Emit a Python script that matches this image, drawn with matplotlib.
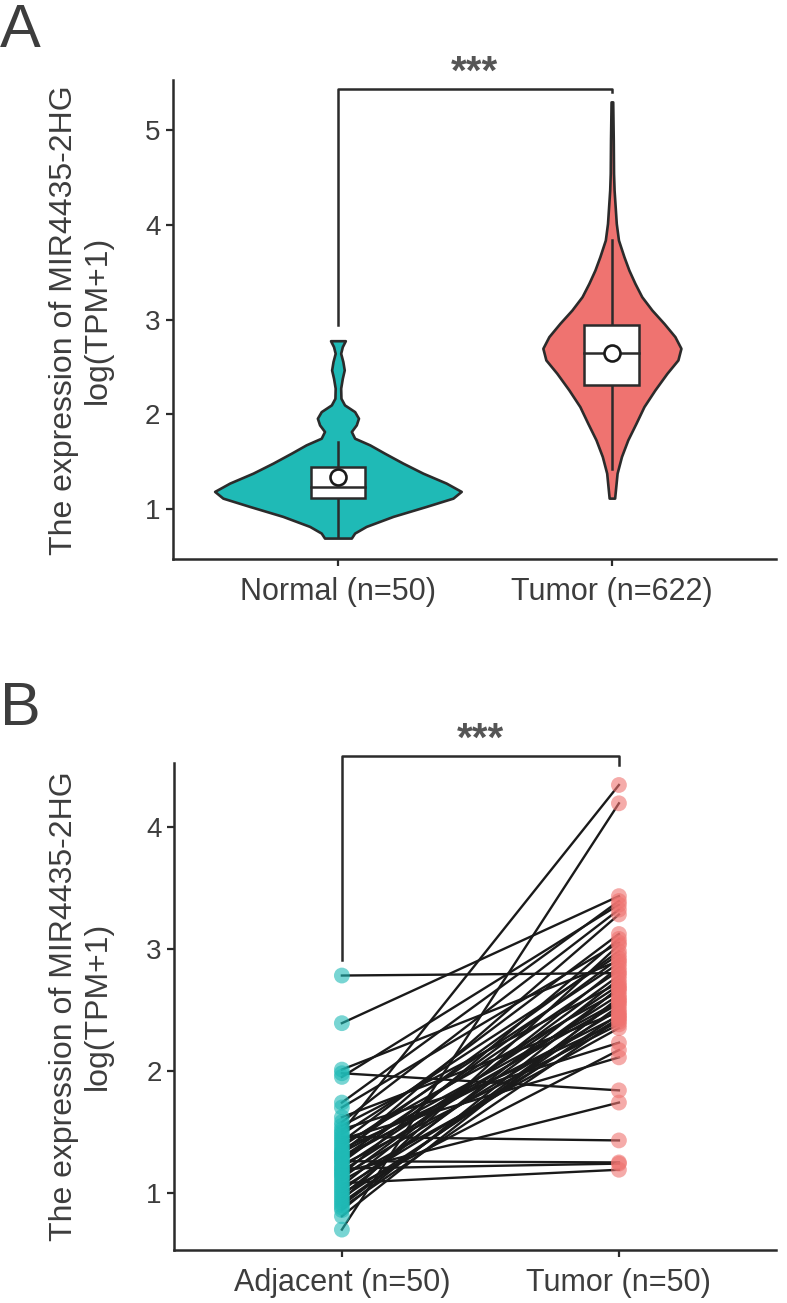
import numpy as np
import matplotlib.pyplot as plt
from matplotlib.patches import Rectangle

plt.rcParams['font.family'] = ['Liberation Sans', 'DejaVu Sans']

TXT = '#3d3d3d'
LINE = '#2b2b2b'
TEAL = '#1fbab6'
SALMON = '#ef7370'

# ---- panel A : violin profiles (value, half width in x units)
normal_y = [2.776, 2.713, 2.643, 2.555, 2.467, 2.379, 2.274, 2.168, 2.098, 2.027, 1.957,
            1.887, 1.817, 1.746, 1.676, 1.588, 1.483, 1.377, 1.272, 1.184, 1.113, 1.025,
            0.920, 0.814, 0.744, 0.691]
normal_hw = [0.027, 0.016, 0.010, 0.018, 0.023, 0.016, 0.010, 0.011, 0.024, 0.061, 0.075,
             0.067, 0.049, 0.061, 0.116, 0.170, 0.237, 0.310, 0.395, 0.450, 0.420, 0.322,
             0.201, 0.103, 0.061, 0.049]
tumor_y = [5.299, 4.894, 4.543, 4.367, 4.191, 4.015, 3.839, 3.663, 3.522, 3.382, 3.241,
           3.100, 2.959, 2.819, 2.696, 2.573, 2.432, 2.256, 2.080, 1.904, 1.728, 1.553,
           1.377, 1.113]
tumor_hw = [0.003, 0.005, 0.006, 0.008, 0.012, 0.016, 0.024, 0.044, 0.062, 0.084, 0.109,
            0.146, 0.190, 0.230, 0.252, 0.241, 0.201, 0.157, 0.117, 0.088, 0.058, 0.035,
            0.019, 0.010]

# box stats: whisker low, q1, median, q3, whisker high, mean
normal_box = [0.70, 1.116, 1.23, 1.445, 1.71, 1.34]
tumor_box = [1.42, 2.31, 2.65, 2.94, 3.84, 2.65]

groupsA = ['Normal (n=50)', 'Tumor (n=622)']

# ---- panel B : paired samples (same order = same patient)
adjacent = [2.78, 2.39, 2.01, 1.98, 1.95, 0.70, 1.50, 1.46, 1.26, 1.20, 1.08, 1.17, 0.81,
            1.74, 1.70, 1.62, 1.58, 1.55, 1.52, 1.48, 1.44, 1.42, 1.40, 1.38, 1.36, 1.34,
            1.33, 1.32, 1.30, 1.29, 1.28, 1.25, 1.23, 1.21, 1.18, 1.15, 1.14, 1.12, 1.10,
            1.06, 1.04, 1.02, 1.00, 0.98, 0.96, 0.94, 0.92, 0.90, 0.88, 0.86]
tumor = [2.80, 3.43, 2.90, 1.84, 3.36, 4.19, 4.34, 1.43, 1.25, 1.24, 1.19, 1.74, 2.60,
         3.39, 3.05, 2.48, 3.32, 2.72, 2.23, 2.95, 2.11, 3.12, 2.65, 2.88, 2.40, 2.98,
         2.57, 3.28, 2.45, 2.82, 2.55, 2.92, 2.38, 2.70, 2.62, 3.08, 2.50, 2.78, 2.35,
         2.85, 2.43, 2.67, 2.17, 2.75, 2.46, 3.03, 2.53, 2.58, 2.42, 2.68]
groupsB = ['Adjacent (n=50)', 'Tumor (n=50)']


def style_axes(ax):
    for s in ['top', 'right']:
        ax.spines[s].set_visible(False)
    for s in ['left', 'bottom']:
        ax.spines[s].set_color(LINE)
        ax.spines[s].set_linewidth(1.8)
    ax.tick_params(axis='both', length=5, width=1.6, color=LINE, labelcolor=TXT)
    ax.tick_params(axis='y', labelsize=20, pad=4)
    ax.tick_params(axis='x', labelsize=22, pad=8)


def draw_violin(ax, x, ys, hw, color, box):
    ys = np.array(ys)
    hw = np.array(hw)
    ax.fill_betweenx(ys, x - hw, x + hw, facecolor=color, edgecolor=LINE, lw=1.9, zorder=2)
    lo, q1, med, q3, hi, mean = box
    ax.plot([x, x], [lo, q1], color=LINE, lw=1.8, zorder=3)
    ax.plot([x, x], [q3, hi], color=LINE, lw=1.8, zorder=3)
    ax.add_patch(Rectangle((x - 0.1, q1), 0.2, q3 - q1, facecolor='white',
                           edgecolor=LINE, lw=1.8, zorder=4))
    ax.plot([x - 0.1, x + 0.1], [med, med], color=LINE, lw=1.8, zorder=5)
    ax.plot([x], [mean], marker='o', ms=11.5, mfc='white', mec='#1a1a1a', mew=1.9, zorder=6)


def bracket(ax, x0, x1, y, yl, yr, label, ty):
    ax.plot([x0, x0, x1, x1], [yl, y, y, yr], color=LINE, lw=1.8, clip_on=False, zorder=1)
    ax.text((x0 + x1) / 2, ty, label, ha='center', va='center', fontsize=29,
            fontweight='bold', color='#555555', clip_on=False)


fig = plt.figure(figsize=(7.87, 13.03), dpi=100)

# ---------------- A
axA = fig.add_axes([173 / 787, 1 - 559 / 1303, 603 / 787, 479 / 1303])
style_axes(axA)
draw_violin(axA, 0, normal_y, normal_hw, TEAL, normal_box)
draw_violin(axA, 1, tumor_y, tumor_hw, SALMON, tumor_box)
axA.set_xlim(-0.602, 1.599)
axA.set_ylim(0.47, 5.53)
axA.set_yticks([1, 2, 3, 4, 5])
axA.set_xticks([0, 1])
axA.set_xticklabels(groupsA)
bracket(axA, 0, 1, 5.44, 2.94, 5.40, '***', 5.61)

# ---------------- B
axB = fig.add_axes([174 / 787, 1 - 1250 / 1303, 602 / 787, 487 / 1303])
style_axes(axB)
for a, t in zip(adjacent, tumor):
    axB.plot([0, 1], [a, t], color='#1a1a1a', lw=1.7, zorder=2)
axB.scatter(np.zeros(len(adjacent)), adjacent, s=130, color=TEAL, alpha=0.6,
            edgecolors='none', zorder=3)
axB.scatter(np.ones(len(tumor)), tumor, s=130, color=SALMON, alpha=0.6,
            edgecolors='none', zorder=3)
axB.set_xlim(-0.606, 1.567)
axB.set_ylim(0.533, 4.52)
axB.set_yticks([1, 2, 3, 4])
axB.set_xticks([0, 1])
axB.set_xticklabels(groupsB)
bracket(axB, 0, 1, 4.58, 2.91, 4.50, '***', 4.71)

ylab = 'The expression of MIR4435-2HG\nlog(TPM+1)'
fig.text(81 / 787, 1 - 320 / 1303, ylab, rotation=90, ha='center', va='center',
         fontsize=23, color=TXT, multialignment='center', linespacing=1.15)
fig.text(81 / 787, 1 - 1006 / 1303, ylab, rotation=90, ha='center', va='center',
         fontsize=23, color=TXT, multialignment='center', linespacing=1.15)

fig.text(0.0, 1 - 47 / 1303, 'A', fontsize=44, color=TXT, va='baseline', ha='left')
fig.text(0.0, 1 - 725 / 1303, 'B', fontsize=44, color=TXT, va='baseline', ha='left')

fig.savefig('out.png', dpi=100)
